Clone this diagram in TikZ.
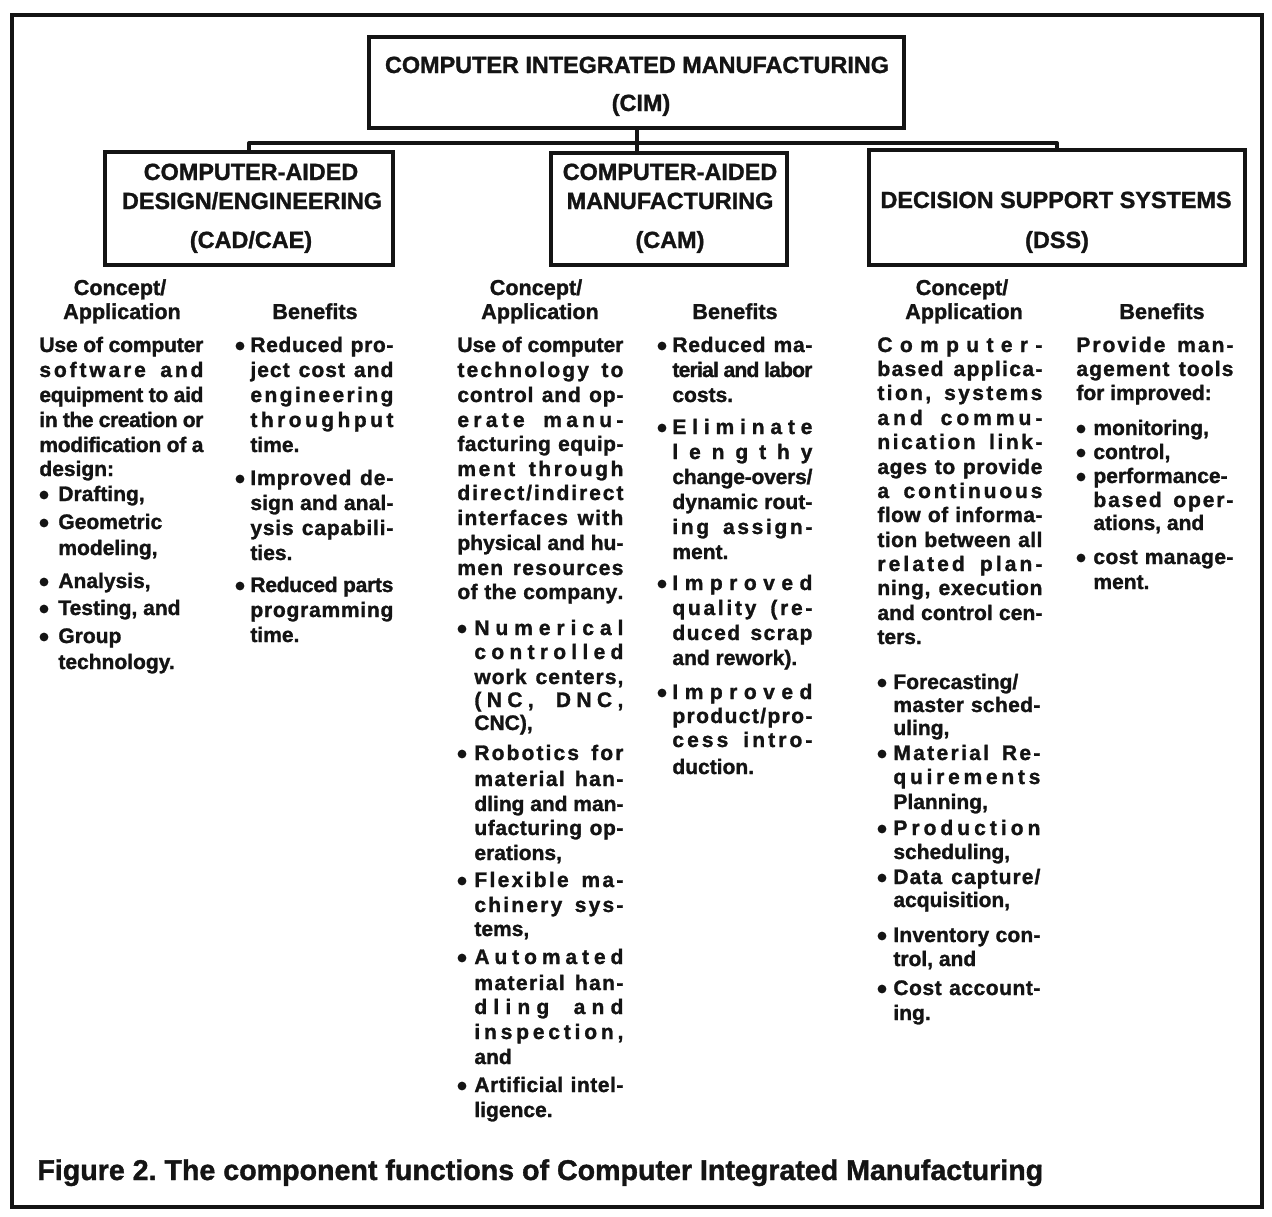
\documentclass[tikz,border=0pt]{standalone}
\usepackage{fontspec}
\setmainfont{Liberation Sans}[BoldFeatures={FakeBold=1.3}]
\frenchspacing

% ---- justified lines: spread letters and words over a given width ----
\makeatletter
\def\jl@stop{JLSTOP}
\newcommand\spread[1]{\jl@words#1 \jl@end}
\def\jl@words#1 #2\jl@end{%
  \jl@letters#1\jl@stop
  \if\relax\detokenize{#2}\relax\else
    \hskip .28em plus 3fil minus .08em\relax\jl@words#2\jl@end\fi}
\def\jl@letters#1#2{#1\ifx\jl@stop#2\else
  \hskip 0pt plus 1fil minus .05em\relax
  \expandafter\jl@letters\expandafter#2\fi}
\makeatother

\newcounter{ln}
\tikzset{
  ink/.style={color=black!92},
  txt/.style={ink, inner sep=0pt, font=\fontsize{10.5}{12.5}\selectfont\bfseries},
  hd/.style={ink, inner sep=0pt, font=\fontsize{10.8}{12.5}\selectfont\bfseries},
  ttl/.style={ink, inner sep=0pt, anchor=base, font=\fontsize{11.7}{14}\selectfont\bfseries},
  box/.style={draw, ink, line width=2.2pt, inner sep=0pt},
  conn/.style={draw, ink, line width=2pt, line join=round},
  dot/.style={circle, fill=black!92, inner sep=0pt, minimum size=4.4pt},
}
% justified line: left x, centre y, right x, text
\newcommand\J[4]{\stepcounter{ln}%
  \node[txt, anchor=base west] (ln\arabic{ln}) at (#1,#2+7)
    {\makebox[\dimexpr(#3pt-#1pt)/2\relax][s]{\spread{#4}}};}
% ragged line: left x, centre y, text
\newcommand\R[3]{\stepcounter{ln}%
  \node[txt, anchor=base west] (ln\arabic{ln}) at (#1,#2+7) {#3};}
% bullet mark
\newcommand\Bt[2]{\stepcounter{ln}%
  \node[dot] (ln\arabic{ln}) at (#1+2,#2+1) {};}
% column heading
\newcommand\Hd[3]{\stepcounter{ln}%
  \node[hd, anchor=base] (ln\arabic{ln}) at (#1,#2+7) {#3};}

\begin{document}
\begin{tikzpicture}[x=0.5pt, y=-0.5pt]
\useasboundingbox (0,0) rectangle (1272,1216);
\fill[white] (0,0) rectangle (1272,1216);

% outer frame
\draw[ink, line width=2pt] (12,15) rectangle (1262,1207);

% ---- boxes ----
\node[box, minimum width=267.5pt, minimum height=45.5pt] (cim) at (636.5,82.5) {};
\node[box, minimum width=144pt, minimum height=56.5pt] (cad) at (249,208.5) {};
\node[box, minimum width=118pt, minimum height=56pt] (cam) at (669,209) {};
\node[box, minimum width=188pt, minimum height=57.5pt] (dss) at (1057,207.5) {};

\node[ttl] (cimA) at (637,73) {COMPUTER INTEGRATED MANUFACTURING};
\node[ttl] (cimB) at (641,111) {(CIM)};
\node[ttl] (cadA) at (251,180) {COMPUTER-AIDED};
\node[ttl] (cadB) at (252,209) {DESIGN/ENGINEERING};
\node[ttl] (cadC) at (251,248) {(CAD/CAE)};
\node[ttl] (camA) at (670,180) {COMPUTER-AIDED};
\node[ttl] (camB) at (670,209) {MANUFACTURING};
\node[ttl] (camC) at (670,248) {(CAM)};
\node[ttl] (dssA) at (1056,208) {DECISION SUPPORT SYSTEMS};
\node[ttl] (dssB) at (1057,248) {(DSS)};

% ---- connectors ----
\coordinate (bus) at (0,143);
\draw[conn] (cim.south) -- (cim.south |- cam.north);
\draw[conn] (cad.north) |- (bus -| cim.south) -| (dss.north);

% ---- CAD/CAE ----
\Hd{120}{288}{Concept/}
\Hd{122}{312}{Application}
\Hd{315}{312}{Benefits}

\J{39}{345}{203}{Use of computer}
\J{39}{370}{203}{software and}
\J{39}{395}{203}{equipment to aid}
\J{39}{420}{203}{in the creation or}
\J{39}{445}{203}{modification of a}
\R{39}{469}{design:}
\Bt{42}{494}\R{58}{494}{Drafting,}
\Bt{42}{522}\R{58}{522}{Geometric}
\R{58}{548}{modeling,}
\Bt{42}{581}\R{58}{581}{Analysis,}
\Bt{42}{608}\R{58}{608}{Testing, and}
\Bt{42}{636}\R{58}{636}{Group}
\R{58}{662}{technology.}

\Bt{238}{345}\J{250}{345}{393}{Reduced pro-}
\J{250}{370}{393}{ject cost and}
\J{250}{395}{393}{engineering}
\J{250}{420}{393}{throughput}
\R{250}{445}{time.}
\Bt{238}{478}\J{250}{478}{393}{Improved de-}
\J{250}{503}{393}{sign and anal-}
\J{250}{528}{393}{ysis capabili-}
\R{250}{553}{ties.}
\Bt{238}{585}\J{250}{585}{393}{Reduced parts}
\J{250}{610}{393}{programming}
\R{250}{635}{time.}

% ---- CAM ----
\Hd{536}{288}{Concept/}
\Hd{540}{312}{Application}
\Hd{735}{312}{Benefits}

\J{457}{345}{623}{Use of computer}
\J{457}{370}{623}{technology to}
\J{457}{395}{623}{control and op-}
\J{457}{420}{623}{erate manu-}
\J{457}{444}{623}{facturing equip-}
\J{457}{469}{623}{ment through}
\J{457}{493}{623}{direct/indirect}
\J{457}{518}{623}{interfaces with}
\J{457}{543}{623}{physical and hu-}
\J{457}{568}{623}{men resources}
\J{457}{592}{623}{of the company.}
\Bt{460}{628}\J{474}{628}{623}{Numerical}
\J{474}{652}{623}{controlled}
\J{474}{677}{623}{work centers,}
\J{474}{700}{623}{(NC, DNC,}
\R{474}{723}{CNC),}
\Bt{460}{753}\J{474}{753}{623}{Robotics for}
\J{474}{779}{623}{material han-}
\J{474}{804}{623}{dling and man-}
\J{474}{828}{623}{ufacturing op-}
\R{474}{853}{erations,}
\Bt{460}{880}\J{474}{880}{623}{Flexible ma-}
\J{474}{905}{623}{chinery sys-}
\R{474}{929}{tems,}
\Bt{460}{957}\J{474}{957}{623}{Automated}
\J{474}{983}{623}{material han-}
\J{474}{1007}{623}{dling and}
\J{474}{1032}{623}{inspection,}
\R{474}{1057}{and}
\Bt{460}{1085}\J{474}{1085}{623}{Artificial intel-}
\R{474}{1110}{ligence.}

\Bt{660}{345}\J{672}{345}{812}{Reduced ma-}
\J{672}{370}{812}{terial and labor}
\R{672}{395}{costs.}
\Bt{660}{427}\J{672}{427}{812}{Eliminate}
\J{672}{452}{812}{lengthy}
\J{672}{477}{812}{change-overs/}
\J{672}{502}{812}{dynamic rout-}
\J{672}{527}{812}{ing assign-}
\R{672}{552}{ment.}
\Bt{660}{583}\J{672}{583}{812}{Improved}
\J{672}{608}{812}{quality (re-}
\J{672}{633}{812}{duced scrap}
\R{672}{658}{and rework).}
\Bt{660}{692}\J{672}{692}{812}{Improved}
\J{672}{716}{812}{product/pro-}
\J{672}{740}{812}{cess intro-}
\R{672}{767}{duction.}

% ---- DSS ----
\Hd{962}{288}{Concept/}
\Hd{964}{312}{Application}
\Hd{1162}{312}{Benefits}

\J{877}{345}{1042}{Computer-}
\J{877}{369}{1042}{based applica-}
\J{877}{393}{1042}{tion, systems}
\J{877}{418}{1042}{and commu-}
\J{877}{442}{1042}{nication link-}
\J{877}{467}{1042}{ages to provide}
\J{877}{491}{1042}{a continuous}
\J{877}{515}{1042}{flow of informa-}
\J{877}{540}{1042}{tion between all}
\J{877}{564}{1042}{related plan-}
\J{877}{588}{1042}{ning, execution}
\J{877}{613}{1042}{and control cen-}
\R{877}{637}{ters.}
\Bt{880}{682}\R{893}{682}{Forecasting/}
\J{893}{705}{1040}{master sched-}
\R{893}{728}{uling,}
\Bt{880}{753}\J{893}{753}{1040}{Material Re-}
\J{893}{777}{1040}{quirements}
\R{893}{802}{Planning,}
\Bt{880}{828}\J{893}{828}{1040}{Production}
\R{893}{852}{scheduling,}
\Bt{880}{877}\J{893}{877}{1040}{Data capture/}
\R{893}{900}{acquisition,}
\Bt{880}{935}\J{893}{935}{1040}{Inventory con-}
\R{893}{959}{trol, and}
\Bt{880}{988}\J{893}{988}{1040}{Cost account-}
\R{893}{1013}{ing.}

\J{1076}{345}{1233}{Provide man-}
\J{1076}{369}{1233}{agement tools}
\R{1076}{393}{for improved:}
\Bt{1079}{428}\R{1093}{428}{monitoring,}
\Bt{1079}{452}\R{1093}{452}{control,}
\Bt{1079}{476}\R{1093}{476}{performance-}
\J{1093}{500}{1233}{based oper-}
\R{1093}{523}{ations, and}
\Bt{1079}{557}\J{1093}{557}{1233}{cost manage-}
\R{1093}{582}{ment.}

% ---- caption ----
\node[ink, inner sep=0pt, anchor=base west, font=\fontsize{14.3}{16}\selectfont\bfseries]
  (caption) at (37,1180) {Figure 2. The component functions of Computer Integrated Manufacturing};
\end{tikzpicture}
\end{document}
